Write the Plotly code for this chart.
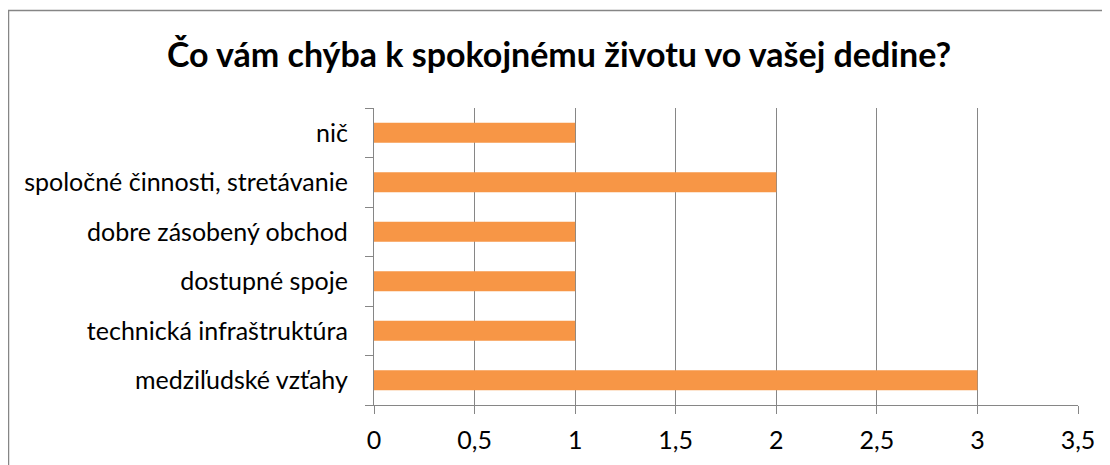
import plotly.graph_objects as go

categories = [
    "medziľudské vzťahy",
    "technická infraštruktúra",
    "dostupné spoje",
    "dobre zásobený obchod",
    "spoločné činnosti, stretávanie",
    "nič",
]
values = [3, 1, 1, 1, 2, 1]
title_text = "Čo vám chýba k spokojnému životu vo vašej dedine?"

# page body has an 8px margin, so figure is offset by (8, 8)
OFF = 8
W, H = 1110 - OFF, 465 - OFF
L = 374 - OFF
T = 108 - OFF
R = W - (1078 - OFF)
B = H - (405 - OFF)
pw, ph = W - L - R, H - T - B

def px2paper_x(px):
    return (px - OFF - L) / pw

def py2paper_y(py):
    return 1 - (py - OFF - T) / ph

grid = "#868686"
font_family = "Lato, 'Open Sans', sans-serif"

fig = go.Figure(
    go.Bar(
        x=values,
        y=categories,
        orientation="h",
        marker=dict(color="#F79646", line=dict(width=0)),
        hoverinfo="skip",
    )
)

fig.update_layout(
    width=W,
    height=H,
    margin=dict(l=L, r=R, t=T, b=B, pad=0),
    paper_bgcolor="white",
    plot_bgcolor="white",
    separators=", ",
    bargap=0.6,
    showlegend=False,
    font=dict(family=font_family, size=25, color="black"),
    title=dict(
        text="<b>" + title_text + "</b>",
        x=0.5,
        xanchor="center",
        y=1 - (55 - OFF) / H,
        yanchor="middle",
        font=dict(family=font_family, size=34, color="black"),
    ),
    xaxis=dict(
        range=[0, 3.5],
        dtick=0.5,
        tick0=0,
        showgrid=True,
        gridcolor=grid,
        gridwidth=1.3,
        showline=True,
        linecolor=grid,
        linewidth=1.3,
        ticks="outside",
        ticklen=8,
        tickcolor=grid,
        tickwidth=1.3,
        zeroline=False,
        ticklabelstandoff=5,
        fixedrange=True,
    ),
    yaxis=dict(
        categoryorder="array",
        categoryarray=categories,
        showgrid=False,
        showline=True,
        linecolor=grid,
        linewidth=1.3,
        ticks="outside",
        tickson="boundaries",
        ticklen=8,
        tickcolor=grid,
        tickwidth=1.3,
        ticklabelstandoff=20,
        zeroline=False,
        fixedrange=True,
    ),
    shapes=[
        dict(
            type="rect",
            xref="paper",
            yref="paper",
            x0=px2paper_x(8.5),
            x1=px2paper_x(1110 + 5),
            y0=py2paper_y(465 + 5),
            y1=py2paper_y(10.5),
            line=dict(color="#868686", width=1.5),
            fillcolor="rgba(0,0,0,0)",
            layer="below",
        )
    ],
)

fig.write_html("out.html")
